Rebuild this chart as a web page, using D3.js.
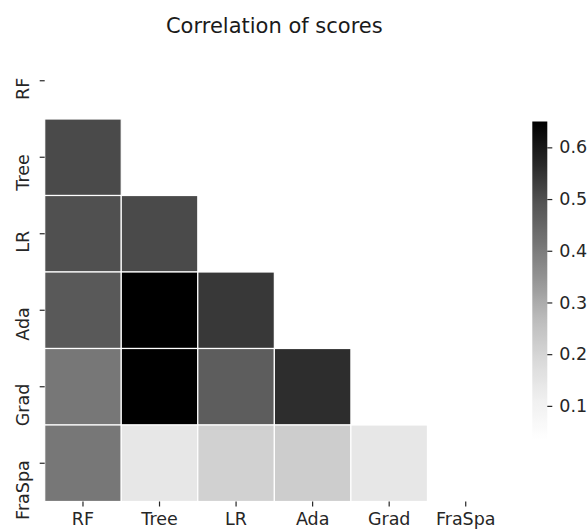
<!DOCTYPE html>
<html>
<head>
<meta charset="utf-8">
<script src="https://cdn.jsdelivr.net/npm/d3@7"></script>
<style>
  html, body { margin: 0; padding: 0; background: #ffffff; }
  svg { display: block; font-family: "DejaVu Sans", sans-serif; }
</style>
</head>
<body>
<svg id="chart" width="588" height="529"></svg>
<script>
// Models compared in the correlation matrix
const models = ["RF", "Tree", "LR", "Ada", "Grad", "FraSpa"];

// Lower-triangle correlations, one array per row (row model vs. earlier models)
const rowTree   = [0.51];
const rowLR     = [0.50, 0.51];
const rowAda    = [0.48, 0.65, 0.54];
const rowGrad   = [0.41, 0.65, 0.47, 0.56];
const rowFraSpa = [0.41, 0.14, 0.21, 0.22, 0.14];

// Colour bar range and ticks
const colorDomain = [0.034, 0.65];
const colorTicks = [0.1, 0.2, 0.3, 0.4, 0.5, 0.6];

const title = "Correlation of scores";

// Sequential grey palette (white -> black)
const greyStops = ["#ffffff", "#f0f0f0", "#d9d9d9", "#bdbdbd", "#969696",
                   "#737373", "#525252", "#252525", "#000000"];

const svg = d3.select("#chart");

const lowerRows = [[], rowTree, rowLR, rowAda, rowGrad, rowFraSpa];
const cells = [];
lowerRows.forEach((vals, i) => {
  vals.forEach((v, j) => cells.push({ row: models[i], col: models[j], value: v }));
});

const x = d3.scaleBand().domain(models).range([44.7, 504]);
const y = d3.scaleBand().domain(models).range([42.5, 501.5]);

const t = d3.scaleLinear().domain(colorDomain).range([0, 1]).clamp(true);
const greys = d3.scaleLinear()
  .domain(d3.range(greyStops.length).map(k => k / (greyStops.length - 1)))
  .range(greyStops)
  .interpolate(d3.interpolateRgb);
const color = v => greys(t(v));

// Title
svg.append("text")
  .attr("x", (x.range()[0] + x.range()[1]) / 2)
  .attr("y", 32.5)
  .attr("text-anchor", "middle")
  .attr("font-size", 21)
  .attr("fill", "#1a1a1a")
  .text(title);

// Heatmap cells
svg.append("g")
  .selectAll("rect")
  .data(cells)
  .join("rect")
  .attr("x", d => x(d.col))
  .attr("y", d => y(d.row))
  .attr("width", x.bandwidth())
  .attr("height", y.bandwidth())
  .attr("fill", d => color(d.value))
  .attr("stroke", "#ffffff")
  .attr("stroke-width", 1.2);

const tickColor = "#262626";
const labelSize = 17.5;

// X axis
const xAxis = svg.append("g").attr("transform", `translate(0,${y.range()[1]})`);
xAxis.call(d3.axisBottom(x).tickSize(5).tickPadding(6));
xAxis.select(".domain").remove();
xAxis.selectAll(".tick line").attr("stroke", tickColor).attr("stroke-width", 1.2);
xAxis.selectAll(".tick text")
  .attr("font-size", labelSize)
  .attr("font-family", "DejaVu Sans, sans-serif")
  .attr("fill", tickColor)
  .attr("dy", null)
  .attr("y", 23.5);

// Y axis with rotated labels
const yAxis = svg.append("g").attr("transform", `translate(${x.range()[0]},0)`);
yAxis.call(d3.axisLeft(y).tickSize(5));
yAxis.select(".domain").remove();
yAxis.selectAll(".tick line").attr("stroke", tickColor).attr("stroke-width", 1.2);
yAxis.selectAll(".tick text")
  .attr("font-size", labelSize)
  .attr("font-family", "DejaVu Sans, sans-serif")
  .attr("fill", tickColor)
  .attr("x", null)
  .attr("dy", null)
  .attr("text-anchor", "end")
  .attr("transform", `translate(${29 - x.range()[0]},-3) rotate(-90)`);

// Colour bar
const cbX = 532.3, cbW = 15;
const cbScale = d3.scaleLinear().domain(colorDomain).range([440, 121.5]);

const defs = svg.append("defs");
const grad = defs.append("linearGradient")
  .attr("id", "cbar-grad")
  .attr("x1", 0).attr("y1", 1).attr("x2", 0).attr("y2", 0);
grad.selectAll("stop")
  .data(d3.range(0, 1.0001, 0.02))
  .join("stop")
  .attr("offset", d => d)
  .attr("stop-color", d => greys(d));

svg.append("rect")
  .attr("x", cbX)
  .attr("y", cbScale.range()[1])
  .attr("width", cbW)
  .attr("height", cbScale.range()[0] - cbScale.range()[1])
  .attr("fill", "url(#cbar-grad)");

const cbAxis = svg.append("g").attr("transform", `translate(${cbX + cbW},0)`);
cbAxis.call(d3.axisRight(cbScale).tickValues(colorTicks).tickFormat(d3.format(".1f")).tickSize(5).tickPadding(7));
cbAxis.select(".domain").remove();
cbAxis.selectAll(".tick line").attr("stroke", tickColor).attr("stroke-width", 1.2);
cbAxis.selectAll(".tick text")
  .attr("font-size", labelSize)
  .attr("font-family", "DejaVu Sans, sans-serif")
  .attr("fill", tickColor);
</script>
</body>
</html>
